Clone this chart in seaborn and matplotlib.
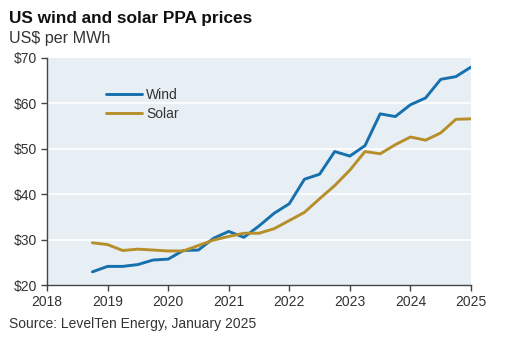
import numpy as np
import pandas as pd
import matplotlib
matplotlib.use("Agg")
import matplotlib.pyplot as plt
import seaborn as sns

# ---- data ----
quarters = [2018.75, 2019.0, 2019.25, 2019.5, 2019.75, 2020.0, 2020.25, 2020.5, 2020.75,
            2021.0, 2021.25, 2021.5, 2021.75, 2022.0, 2022.25, 2022.5, 2022.75,
            2023.0, 2023.25, 2023.5, 2023.75, 2024.0, 2024.25, 2024.5, 2024.75, 2025.0]
wind = [22.9, 24.1, 24.1, 24.5, 25.5, 25.7, 27.6, 27.7, 30.3,
        31.8, 30.5, 33.0, 35.8, 37.9, 43.3, 44.4, 49.4,
        48.4, 50.7, 57.7, 57.1, 59.7, 61.2, 65.3, 65.9, 68.0]
solar = [29.3, 28.9, 27.6, 27.9, 27.7, 27.5, 27.5, 28.7, 29.9,
         30.7, 31.4, 31.4, 32.4, 34.2, 36.0, 39.0, 41.9,
         45.3, 49.4, 48.9, 50.9, 52.6, 51.9, 53.5, 56.5, 56.6]
series_names = ["Wind", "Solar"]
x_ticks = [2018, 2019, 2020, 2021, 2022, 2023, 2024, 2025]
y_ticks = [20, 30, 40, 50, 60, 70]
y_tick_labels = ["$20", "$30", "$40", "$50", "$60", "$70"]

title = "US wind and solar PPA prices"
subtitle = "US$ per MWh"
source = "Source: LevelTen Energy, January 2025"

df = pd.DataFrame({
    "date": quarters * 2,
    "price": wind + solar,
    "series": [series_names[0]] * len(wind) + [series_names[1]] * len(solar),
})

sns.set_theme(style="white")
plt.rcParams["font.family"] = ["Liberation Sans", "DejaVu Sans"]

colors = {"Wind": "#1670ad", "Solar": "#b68f2b"}
text_col = "#333333"

fig = plt.figure(figsize=(5.05, 3.37), dpi=100)
ax = fig.add_axes([47 / 505, 1 - 285 / 337, 424 / 505, 227 / 337])
ax.set_facecolor("#e7eff5")

sns.lineplot(data=df, x="date", y="price", hue="series", palette=colors,
             linewidth=2.1, ax=ax, legend=True)

ax.set_xlim(2018, 2025)
ax.set_ylim(20, 70)
ax.set_xticks(x_ticks)
ax.set_xticklabels([str(t) for t in x_ticks])
ax.set_yticks(y_ticks)
ax.set_yticklabels(y_tick_labels)
ax.set_xlabel("")
ax.set_ylabel("")

for yv in y_ticks[1:-1]:
    ax.axhline(yv, color="white", linewidth=1.2, zorder=0.5)

for s in ["top", "right"]:
    ax.spines[s].set_visible(False)
for s in ["left", "bottom"]:
    ax.spines[s].set_color("#444444")
    ax.spines[s].set_linewidth(1.0)

ax.tick_params(axis="both", direction="out", length=4, width=1, color="#444444",
               labelsize=10, labelcolor=text_col, pad=3)
ax.tick_params(axis="y", left=True)
ax.tick_params(axis="x", bottom=True)

leg = ax.legend(loc="upper left", bbox_to_anchor=(0.125, 0.893), frameon=False,
                fontsize=10, handlelength=2.6, handletextpad=0.3,
                labelspacing=0.35, borderaxespad=0)
for t in leg.get_texts():
    t.set_color(text_col)

fig.text(9 / 505, 1 - 18 / 337, title, fontsize=12.4, fontweight="bold",
         color="#111111", va="center", ha="left")
fig.text(9 / 505, 1 - 38 / 337, subtitle, fontsize=11.6, color=text_col,
         va="center", ha="left")
fig.text(9 / 505, 1 - 324 / 337, source, fontsize=10, color=text_col,
         va="center", ha="left")

fig.savefig("out.png", dpi=100, facecolor="white")
